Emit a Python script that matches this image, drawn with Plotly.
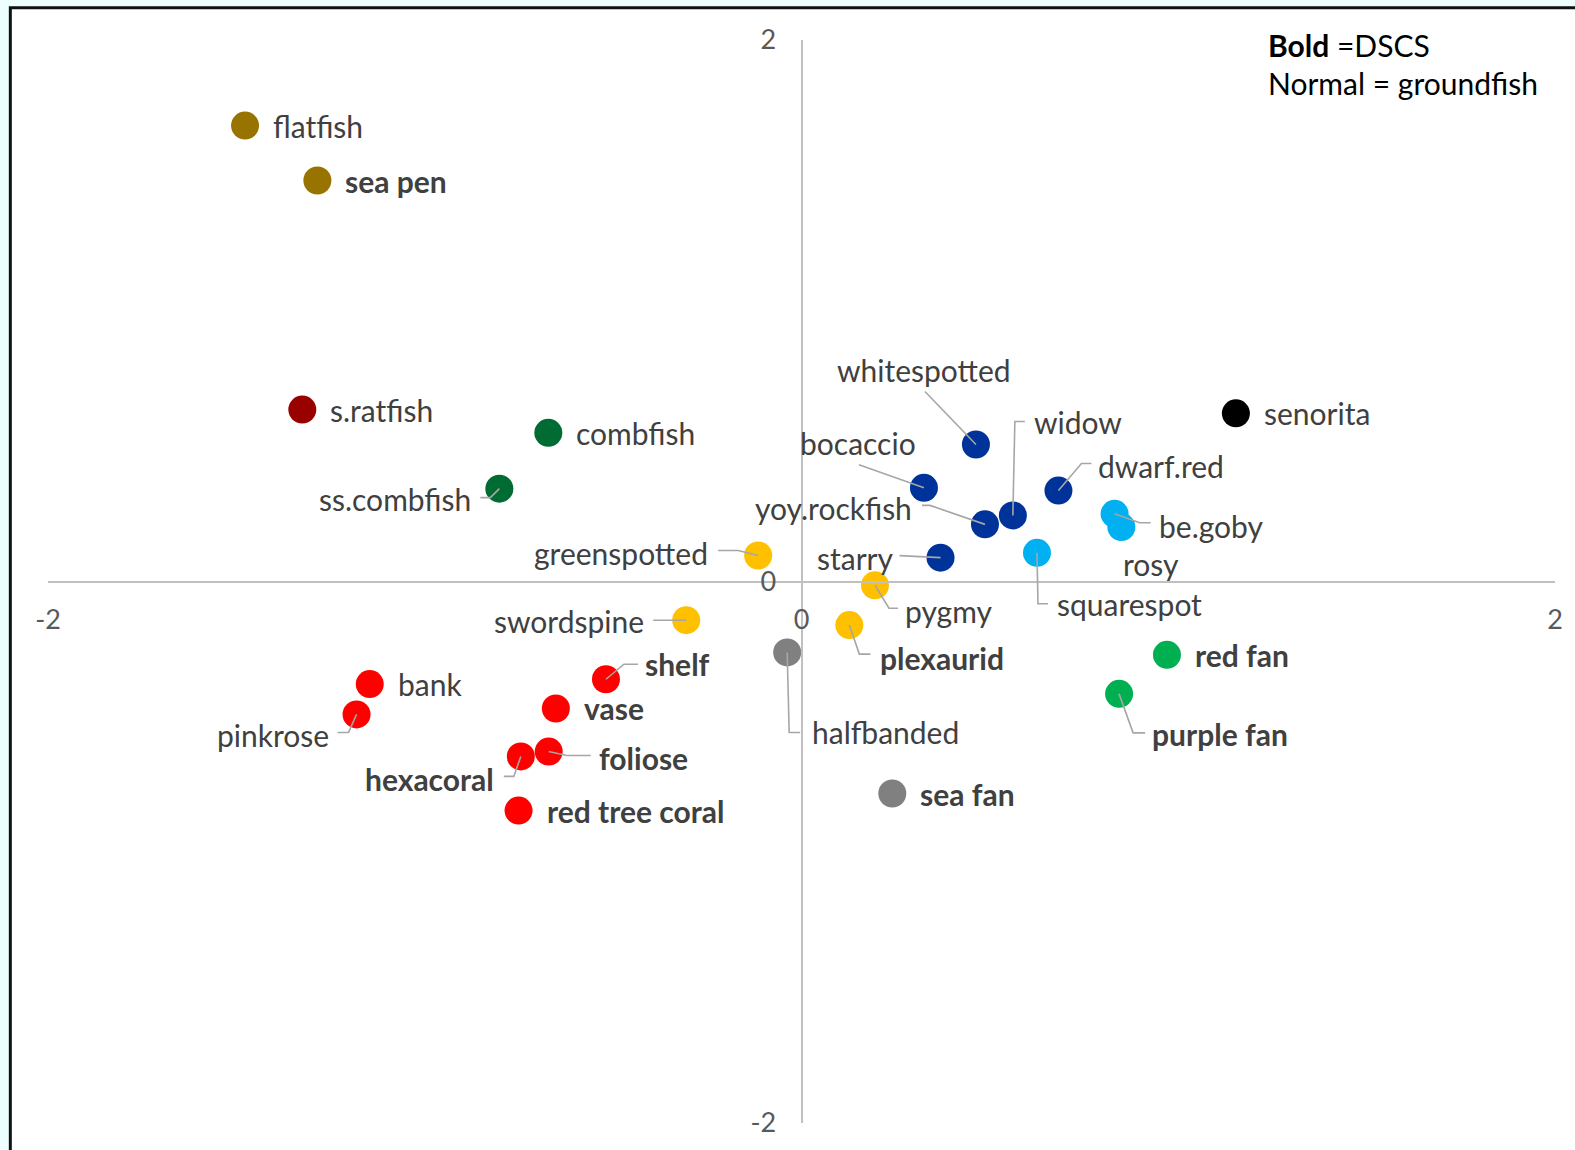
import plotly.graph_objects as go

# ---- data -------------------------------------------------------------
species = [
    "flatfish", "sea pen", "s.ratfish", "combfish", "ss.combfish",
    "greenspotted", "swordspine", "pygmy", "plexaurid",
    "whitespotted", "bocaccio", "yoy.rockfish", "widow", "dwarf.red", "starry",
    "be.goby", "rosy", "squarespot", "senorita",
    "red fan", "purple fan",
    "bank", "pinkrose", "shelf", "vase", "foliose", "hexacoral", "red tree coral",
    "halfbanded", "sea fan",
]
axis1 = [
    -1.477, -1.285, -1.325, -0.672, -0.802,
    -0.115, -0.306, 0.195, 0.127,
    0.463, 0.325, 0.487, 0.561, 0.682, 0.369,
    0.831, 0.849, 0.625, 1.153,
    0.970, 0.843,
    -1.146, -1.181, -0.519, -0.652, -0.671, -0.745, -0.751,
    -0.038, 0.241,
]
axis2 = [
    1.684, 1.481, 0.635, 0.549, 0.343,
    0.096, -0.143, -0.014, -0.161,
    0.506, 0.346, 0.211, 0.244, 0.336, 0.088,
    0.250, 0.201, 0.106, 0.621,
    -0.271, -0.415,
    -0.379, -0.491, -0.361, -0.469, -0.628, -0.646, -0.846,
    -0.262, -0.783,
]
cluster = [
    "A", "A", "B", "C", "C",
    "D", "D", "D", "D",
    "E", "E", "E", "E", "E", "E",
    "F", "F", "F", "G",
    "H", "H",
    "I", "I", "I", "I", "I", "I", "I",
    "J", "J",
]
# True = deep-sea coral / sponge taxon (DSCS), False = groundfish
is_dscs = [
    False, True, False, False, False,
    False, False, False, True,
    False, False, False, False, False, False,
    False, False, False, False,
    True, True,
    False, False, True, True, True, True, True,
    False, True,
]
tick_vals = [-2, 0, 2]
tick_text = ["-2", "0", "2"]
key_lines = ["<b>Bold</b> =DSCS", "Normal = groundfish"]

# ---- styling ----------------------------------------------------------
cluster_colors = {
    "A": "#997300", "B": "#990000", "C": "#006B33", "D": "#FFC000",
    "E": "#00339A", "F": "#00B0F0", "G": "#000000", "H": "#00B050",
    "I": "#FF0000", "J": "#808080",
}
LABEL_FONT = "Lato"
LABEL_SIZE = 30
LABEL_COLOR = "#404040"
LEADER_COLOR = "#A6A6A6"

# label placement: (dx, dy, anchor) in screen pixels from the marker centre
# (dy positive = downwards); default is to the right of the marker
label_place = {
    "whitespotted": (-52, -75, "center"),
    "bocaccio": (-66, -45, "center"),
    "widow": (21, -93, "left"),
    "dwarf.red": (40, -25, "left"),
    "yoy.rockfish": (-73, -16, "right"),
    "starry": (-48, 0, "right"),
    "be.goby": (44, 12, "left"),
    "rosy": (30, 37, "center"),
    "squarespot": (20, 51, "left"),
    "pygmy": (30, 26, "left"),
    "plexaurid": (31, 33, "left"),
    "halfbanded": (25, 80, "left"),
    "purple fan": (33, 40, "left"),
    "shelf": (39, -15, "left"),
    "foliose": (50, 6, "left"),
    "hexacoral": (-27, 23, "right"),
    "pinkrose": (-28, 21, "right"),
    "ss.combfish": (-28, 10, "right"),
    "greenspotted": (-50, -3, "right"),
    "swordspine": (-42, 1, "right"),
}
DEFAULT_PLACE = (28, 0, "left")

# leader lines as pixel polylines starting at the marker centre (dy down)
leaders = {
    "whitespotted": [(-51, -53)],
    "bocaccio": [(-65, -23)],
    "widow": [(2, -94), (12, -94)],
    "dwarf.red": [(23, -27), (33, -27)],
    "yoy.rockfish": [(-55, -19), (-63, -19)],
    "starry": [(-41, -2)],
    "be.goby": [(25, 9), (36, 9)],
    "squarespot": [(1, 51), (11, 51)],
    "pygmy": [(14, 23), (23, 23)],
    "plexaurid": [(10, 29), (21, 29)],
    "halfbanded": [(2, 80), (13, 80)],
    "purple fan": [(14, 39), (26, 39)],
    "shelf": [(18, -15), (32, -15)],
    "foliose": [(18, 4), (42, 4)],
    "hexacoral": [(-7, 20), (-17, 20)],
    "pinkrose": [(-8, 18), (-19, 18)],
    "ss.combfish": [(-9, 9), (-19, 9)],
    "greenspotted": [(-20, -5), (-40, -5)],
    "swordspine": [(-33, 0)],
}

# ---- figure -----------------------------------------------------------
W, H = 1575, 1150
ML, MR, MT, MB = 48, 15, 40, 24

fig = go.Figure()
fig.add_trace(go.Scatter(
    x=axis1, y=axis2, mode="markers",
    marker=dict(size=28, color=[cluster_colors[c] for c in cluster],
                line=dict(width=0)),
    hovertext=species, hoverinfo="text", showlegend=False,
))

shapes = []
# chart frame: white panel with a dark border on a pale page
plot_w = W - ML - MR
plot_h = H - MT - MB
shapes.append(dict(
    type="rect", xref="paper", yref="paper", layer="below",
    x0=(10.2 - ML) / plot_w, x1=1.2,
    y0=-0.2, y1=(H - MB - 7.6) / plot_h,
    fillcolor="white", line=dict(color="#111111", width=3),
))

annotations = []
for name, xv, yv, bold in zip(species, axis1, axis2, is_dscs):
    dx, dy, anchor = label_place.get(name, DEFAULT_PLACE)
    text = f"<b>{name}</b>" if bold else name
    annotations.append(dict(
        x=xv, y=yv, xref="x", yref="y", text=text, showarrow=False,
        xanchor=anchor, yanchor="middle", xshift=dx, yshift=-dy,
        borderpad=0, borderwidth=0,
        font=dict(family=LABEL_FONT, size=LABEL_SIZE, color=LABEL_COLOR),
    ))
    if name in leaders:
        pts = [(0, 0)] + leaders[name]
        path = "M" + " L".join(f"{px},{-py}" for px, py in pts)
        shapes.append(dict(
            type="path", xref="x", yref="y", layer="above",
            xsizemode="pixel", ysizemode="pixel", xanchor=xv, yanchor=yv,
            path=path, line=dict(color=LEADER_COLOR, width=1.6),
        ))

# key in the top-right corner, one line per annotation
for i, line in enumerate(key_lines):
    annotations.append(dict(
        xref="paper", yref="paper", x=(1272.5 - ML) / plot_w, y=1,
        xanchor="left", yanchor="middle", yshift=-5 - 38 * i,
        showarrow=False, text=line, borderpad=0, borderwidth=0,
        font=dict(family=LABEL_FONT, size=LABEL_SIZE, color="#000000"),
    ))

axis_common = dict(
    range=[-2, 2], tickvals=tick_vals, ticktext=tick_text,
    showgrid=False, zeroline=False, showline=True,
    linecolor="#C0C0C0", linewidth=2, ticks="",
    tickfont=dict(family=LABEL_FONT, size=27, color="#595959"),
    anchor="free", position=0.5, fixedrange=True,
)
fig.update_layout(
    width=W, height=H,
    margin=dict(l=ML, r=MR, t=MT, b=MB),
    paper_bgcolor="#ECFEFE", plot_bgcolor="rgba(0,0,0,0)",
    xaxis=dict(**axis_common, ticklabelstandoff=14),
    yaxis=dict(**axis_common, ticklabelstandoff=19),
    shapes=shapes, annotations=annotations,
)

fig.write_html("out.html")
